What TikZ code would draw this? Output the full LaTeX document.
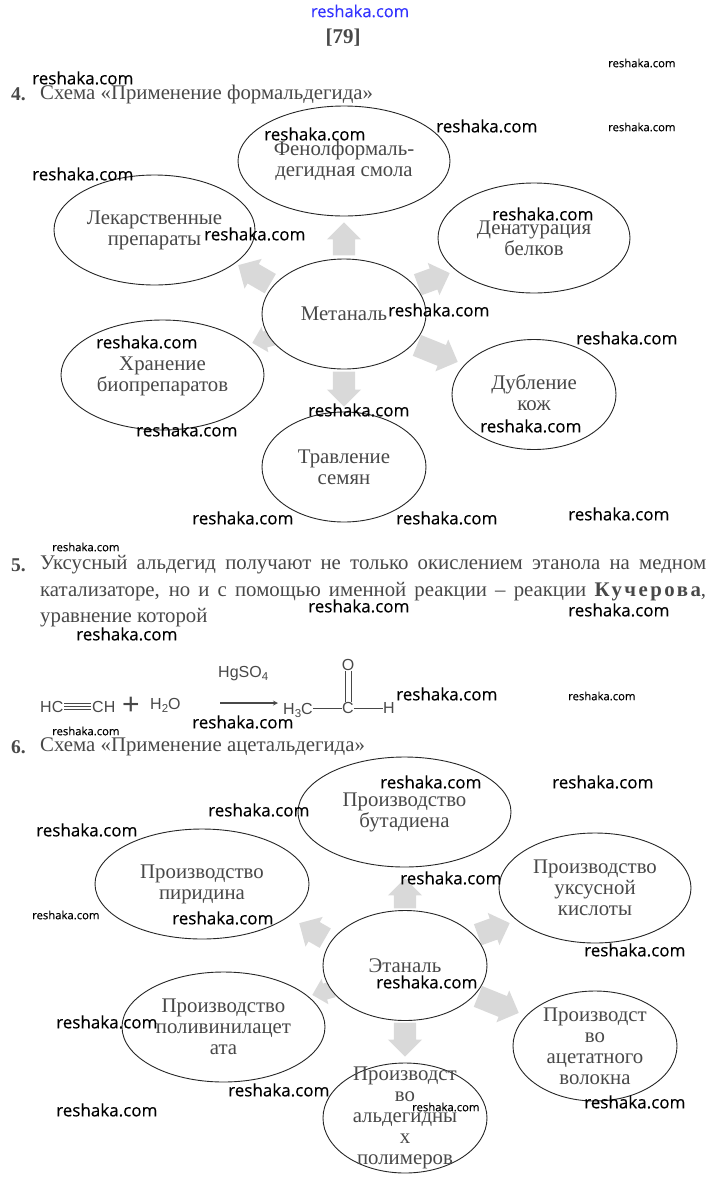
\documentclass[tikz,border=0pt]{standalone}
\usepackage{fontspec}
\setmainfont{Liberation Serif}
\newfontfamily\wmfont[FakeBold=0.35]{Open Sans}
\newfontfamily\chemfont{Liberation Sans}
\usetikzlibrary{shapes.geometric,shapes.arrows}
\definecolor{ink}{HTML}{484848}
\definecolor{arrowgray}{HTML}{D9D9D9}
\newcommand{\chsub}[1]{\raisebox{-3pt}{\fontsize{11.5}{12}\selectfont #1}}
\tikzset{
  x=1pt,y=-1pt,
  oval/.style={ellipse,draw=black!85,line width=0.9pt,fill=white,inner sep=0pt,minimum height=110pt},
  ovaltext/.style={inner sep=0pt,text=ink,align=center,font=\fontsize{20.8}{21}\selectfont},
  blockarrow/.style={single arrow,fill=arrowgray,draw=none,inner xsep=0pt,inner ysep=11pt,minimum height=#1,single arrow head extend=6pt,single arrow tip angle=90,anchor=tip},
  smallarrow/.style={single arrow,fill=arrowgray,draw=none,inner xsep=0pt,inner ysep=8pt,minimum height=#1,single arrow head extend=5pt,single arrow tip angle=90,anchor=tip},
  wmbig/.style={anchor=west,inner sep=0pt,text=black,font=\wmfont\fontsize{17}{17}\selectfont},
  wmsmall/.style={anchor=west,inner sep=0pt,text=black,font=\wmfont\fontsize{11.3}{12}\selectfont},
  headline/.style={anchor=west,inner sep=0pt,text=ink,font=\fontsize{20.8}{21}\selectfont},
  numlabel/.style={anchor=west,inner sep=0pt,text=ink,font=\bfseries\fontsize{19.5}{21}\selectfont},
  chem/.style={inner sep=0pt,text=ink,font=\chemfont\fontsize{16}{18}\selectfont},
  bond/.style={draw=ink,line width=0.9pt}
}
\begin{document}
\begin{tikzpicture}
\useasboundingbox (0,0) rectangle (717,1192);
% headers
\node[inner sep=0pt,text=blue!80,font=\wmfont\fontsize{16.5}{17}\selectfont] (top) at (360,11) {reshaka.com};
\node[inner sep=0pt,text=ink,font=\bfseries\fontsize{21}{21}\selectfont] (page) at (343,38) {[79]};
\node[numlabel] (n4) at (11,94) {4.};
\node[headline] (h4) at (40,94) {Схема «Применение формальдегида»};
% scheme 1 arrows
\node[blockarrow=33pt,rotate=90] (a1) at (344,222) {};
\node[blockarrow=37pt,rotate=150] (a2) at (238,265) {};
\node[blockarrow=34pt,rotate=20] (a3) at (450,273) {};
\node[smallarrow=22pt,rotate=195] (a4) at (252,343) {};
\node[blockarrow=44pt,rotate=-22] (a5) at (458,362) {};
\node[blockarrow=35pt,rotate=-90] (a6) at (344,407) {};
% scheme 1 ovals
\node[oval,minimum width=212pt] (e1) at (344,161) {};
\node[ovaltext] (te1) at (e1.center) {Фенолформаль-\\дегидная смола};
\node[oval,minimum width=201pt] (e2) at (154.5,230) {};
\node[ovaltext] (te2) at (e2.center) {Лекарственные\\препараты};
\node[oval,minimum width=192pt] (e3) at (534,238) {};
\node[ovaltext] (te3) at (e3.center) {Денатурация\\белков};
\node[oval,minimum width=164pt] (e4) at (344,314) {};
\node[ovaltext] (te4) at (e4.center) {Метаналь};
\node[oval,minimum width=203pt] (e5) at (162.5,375) {};
\node[ovaltext] (te5) at ([yshift=-1pt]e5.center) {Хранение\\биопрепаратов};
\node[oval,minimum width=164pt] (e6) at (534,394.5) {};
\node[ovaltext] (te6) at ([yshift=1.5pt]e6.center) {Дубление\\кож};
\node[oval,minimum width=164pt] (e7) at (344,467) {};
\node[ovaltext] (te7) at (e7.center) {Травление\\семян};
% paragraph 5
\node[numlabel] (n5) at (11,565) {5.};
\node[headline] (l1) at (40,565) {\makebox[666pt][s]{Уксусный альдегид получают не только окислением этанола на медном}};
\node[headline] (l2) at (40,592) {\makebox[666pt][s]{катализаторе, но и с помощью именной реакции – реакции {\bfseries\addfontfeature{LetterSpace=12}Кучерова},}};
\node[headline] (l3) at (40,618) {уравнение которой};
% reaction
\node[chem,anchor=west] (hc) at (40,707) {HC};
\node[chem,anchor=west] (ch) at (92,707) {CH};
\coordinate (t1) at (64,703.5); \coordinate (t1e) at (91,703.5);
\coordinate (t2) at (64,706.5); \coordinate (t2e) at (91,706.5);
\coordinate (t3) at (64,709.5); \coordinate (t3e) at (91,709.5);
\draw[bond,line width=0.7pt] (t1) -- (t1e) (t2) -- (t2e) (t3) -- (t3e);
\node[chem,font=\chemfont\fontsize{30}{30}\selectfont] (plus) at (131,706) {+};
\node[chem,anchor=west] (water) at (150,705) {H\chsub{2}O};
\node[chem,anchor=west] (cat) at (218,674) {HgSO\chsub{4}};
\node[chem,anchor=west] (ch3) at (283,710) {H\chsub{3}C};
\node[chem] (c) at (348,708) {C};
\node[chem] (h) at (389,708) {H};
\node[chem] (o) at (348,665) {O};
\coordinate (arS) at (220,703);
\coordinate (arE) at (278,703);
\draw[bond,line width=1.2pt,-stealth] (arS) -- (arE);
\draw[bond] (ch3.east |- c) -- (c);
\draw[bond] (c) -- (h);
\draw[bond] ([xshift=-3pt]o.south) -- ([xshift=-3pt]c.north);
\draw[bond] ([xshift=3pt]o.south) -- ([xshift=3pt]c.north);
% heading 6
\node[numlabel] (n6) at (11,747) {6.};
\node[headline] (h6) at (40,747) {Схема «Применение ацетальдегида»};
% scheme 2 arrows
\node[blockarrow=30pt,rotate=90] (b1) at (405,878) {};
\node[blockarrow=30pt,rotate=150] (b2) at (299,923) {};
\node[blockarrow=34pt,rotate=20] (b3) at (510,923) {};
\node[smallarrow=22pt,rotate=195] (b4) at (312,995) {};
\node[blockarrow=44pt,rotate=-22] (b5) at (519,1013) {};
\node[blockarrow=34pt,rotate=-90] (b6) at (405,1057) {};
% scheme 2 ovals
\node[oval,minimum width=213pt] (f1) at (404.5,812) {};
\node[ovaltext] (tf1) at (f1.center) {Производство\\бутадиена};
\node[oval,minimum width=192pt] (f2) at (595,888) {};
\node[ovaltext] (tf2) at (f2.center) {Производство\\уксусной\\кислоты};
\node[oval,minimum width=214pt] (f3) at (202,884) {};
\node[ovaltext] (tf3) at (f3.center) {Производство\\пиридина};
\node[oval,minimum width=164pt] (f4) at (405,965.5) {};
\node[ovaltext] (tf4) at (f4.center) {Этаналь};
\node[oval,minimum width=203pt] (f5) at (223.5,1027) {};
\node[ovaltext] (tf5) at (f5.center) {Производство\\поливинилацет\\ата};
\node[oval,minimum width=164pt] (f6) at (595,1046) {};
\node[ovaltext] (tf6) at (f6.center) {Производст\\во\\ацетатного\\волокна};
\node[oval,minimum width=164pt] (f7) at (405,1118) {};
\node[ovaltext] (tf7) at (f7.center) {Производст\\во\\альдегидны\\х\\полимеров};
% watermarks
\node[wmbig] (w1) at (32,78) {reshaka.com};
\node[wmbig] (w2) at (264,134) {reshaka.com};
\node[wmbig] (w3) at (436,126) {reshaka.com};
\node[wmbig] (w4) at (32,174) {reshaka.com};
\node[wmbig] (w5) at (492,214) {reshaka.com};
\node[wmbig] (w6) at (204,234) {reshaka.com};
\node[wmbig] (w7) at (388,310) {reshaka.com};
\node[wmbig] (w8) at (576,338) {reshaka.com};
\node[wmbig] (w9) at (96,342) {reshaka.com};
\node[wmbig] (w10) at (308,410) {reshaka.com};
\node[wmbig] (w11) at (136,430) {reshaka.com};
\node[wmbig] (w12) at (480,426) {reshaka.com};
\node[wmbig] (w13) at (192,518) {reshaka.com};
\node[wmbig] (w14) at (396,518) {reshaka.com};
\node[wmbig] (w15) at (568,514) {reshaka.com};
\node[wmbig] (w16) at (308,606) {reshaka.com};
\node[wmbig] (w17) at (568,610) {reshaka.com};
\node[wmbig] (w18) at (76,634) {reshaka.com};
\node[wmbig] (w19) at (396,694) {reshaka.com};
\node[wmbig] (w20) at (192,722) {reshaka.com};
\node[wmbig] (w21) at (380,782) {reshaka.com};
\node[wmbig] (w22) at (552,782) {reshaka.com};
\node[wmbig] (w23) at (208,810) {reshaka.com};
\node[wmbig] (w24) at (36,830) {reshaka.com};
\node[wmbig] (w25) at (400,878) {reshaka.com};
\node[wmbig] (w26) at (172,918) {reshaka.com};
\node[wmbig] (w27) at (584,950) {reshaka.com};
\node[wmbig] (w28) at (376,982) {reshaka.com};
\node[wmbig] (w29) at (56,1022) {reshaka.com};
\node[wmbig] (w30) at (228,1090) {reshaka.com};
\node[wmbig] (w31) at (584,1102) {reshaka.com};
\node[wmbig] (w32) at (56,1110) {reshaka.com};
\node[wmsmall] (s1) at (608,63) {reshaka.com};
\node[wmsmall] (s2) at (608,127) {reshaka.com};
\node[wmsmall] (s3) at (52,547) {reshaka.com};
\node[wmsmall] (s4) at (568,696) {reshaka.com};
\node[wmsmall] (s5) at (52,731) {reshaka.com};
\node[wmsmall] (s6) at (32,915) {reshaka.com};
\node[wmsmall] (s7) at (412,1107) {reshaka.com};
\end{tikzpicture}
\end{document}
